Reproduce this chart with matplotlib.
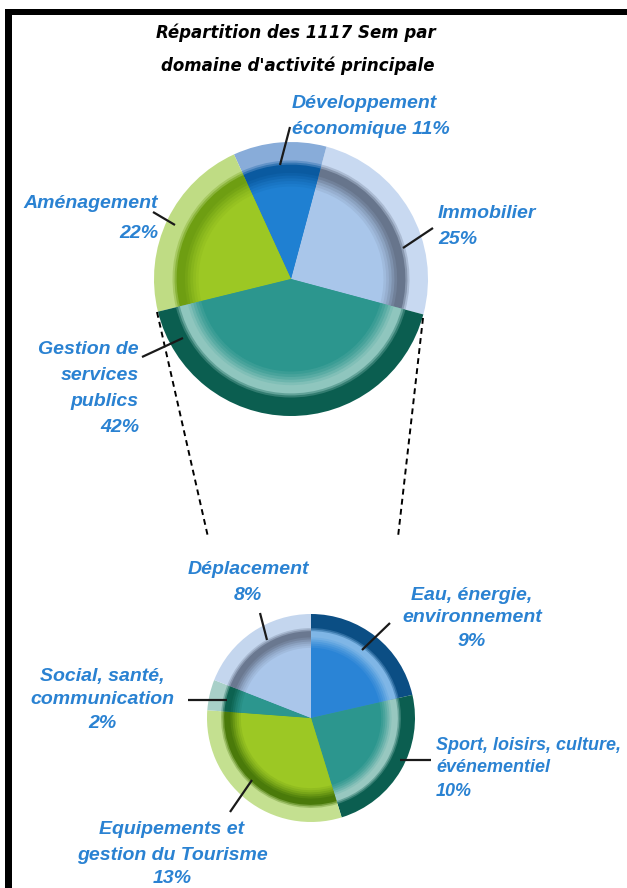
import matplotlib.pyplot as plt
import matplotlib.colors as mcolors
from matplotlib.patches import Rectangle

W, H = 627, 888

# Camembert principal (ordre anti-horaire)
big_labels = ["Immobilier", "Développement économique", "Aménagement", "Gestion de services publics"]
big_values = [25, 11, 22, 42]

# Détail de "Gestion de services publics" (ordre horaire)
small_labels = ["Eau, énergie, environnement", "Sport, loisirs, culture, événementiel",
                "Equipements et gestion du Tourisme", "Social, santé, communication", "Déplacement"]
small_values = [9, 10, 13, 2, 8]

title_lines = ["Répartition des 1117 Sem par", "domaine d'activité principale"]

BLUE = "#2a82d2"

# couleurs : (centre, bord extérieur, gorge)
big_main = ["#a9c6ea", "#1f80d2", "#9cc824", "#2c968e"]
big_outer = ["#c8d9f1", "#88acd9", "#bfdc84", "#0b5e50"]
big_groove = ["#67758c", "#0a5aa0", "#6e9e12", "#8fc6be"]

small_main = ["#2a84d6", "#2c968e", "#9cc824", "#2c968e", "#aac6ea"]
small_outer = ["#0b4e84", "#0b5e50", "#c4e090", "#a8d0c8", "#c4d6ee"]
small_groove = ["#7fb6e6", "#98c8c0", "#4a7a0a", "#0c6250", "#6a7890"]


def Y(y):
    return H - y


def mix(c1, c2, t):
    a = mcolors.to_rgb(c1)
    b = mcolors.to_rgb(c2)
    return tuple(a[i] * (1 - t) + b[i] * t for i in range(3))


def draw_pie(ax, values, center, R, start, ccw, mains, outers, grooves):
    """Camembert avec un bord en relief (plusieurs anneaux superposés)."""
    stages = [(1.0, outers, outers, 0)]
    for r, t in [(0.865, 0.3), (0.85, 0.65), (0.835, 1.0)]:
        stages.append((r, outers, grooves, t))
    for r, t in [(0.775, 0.15), (0.755, 0.35), (0.735, 0.55), (0.715, 0.72),
                 (0.695, 0.86), (0.675, 1.0)]:
        stages.append((r, grooves, mains, t))
    for r, c1, c2, t in stages:
        cols = [mix(a, b, t) for a, b in zip(c1, c2)]
        ax.pie(values, colors=cols, radius=R * r, center=(center[0], Y(center[1])),
               startangle=start, counterclock=ccw,
               wedgeprops=dict(linewidth=0.3, antialiased=True))


def label(ax, lines, x, ys, ha="center", size=14):
    for txt, y in zip(lines, ys):
        ax.text(x, Y(y), txt, ha=ha, va="center", color=BLUE, fontsize=size,
                fontweight="bold", fontstyle="italic", family="Liberation Sans")


def leader(ax, x0, y0, x1, y1):
    ax.plot([x0, x1], [Y(y0), Y(y1)], color="#1a1a1a", lw=1.6, solid_capstyle="butt")


fig = plt.figure(figsize=(W / 100, H / 100), dpi=100)
ax = fig.add_axes([0, 0, 1, 1])

# lignes pointillées reliant les deux camemberts
ax.plot([157, 208], [Y(312), Y(537)], color="black", lw=1.4, ls=(0, (3, 2.2)))
ax.plot([423, 398], [Y(318), Y(537)], color="black", lw=1.4, ls=(0, (3, 2.2)))

draw_pie(ax, big_values, (291, 279), 137, -15, True, big_main, big_outer, big_groove)
draw_pie(ax, small_values, (311, 718), 104, 90, False, small_main, small_outer, small_groove)

# titre
ax.text(296, Y(33), title_lines[0], ha="center", va="center", fontsize=12,
        fontweight="bold", fontstyle="italic", color="black", family="DejaVu Sans")
ax.text(298, Y(66), title_lines[1], ha="center", va="center", fontsize=12,
        fontweight="bold", fontstyle="italic", color="black", family="DejaVu Sans")

# étiquettes du grand camembert
label(ax, ["Développement", "économique 11%"], 292, [104, 130], ha="left")
leader(ax, 290, 127, 280, 165)
label(ax, ["Aménagement", "22%"], 158, [204, 233], ha="right")
leader(ax, 153, 212, 175, 225)
label(ax, ["Immobilier", "25%"], 438, [213, 240], ha="left")
leader(ax, 433, 228, 403, 248)
label(ax, ["Gestion de", "services", "publics", "42%"], 139, [350, 376, 402, 428], ha="right")
leader(ax, 142, 357, 183, 338)

# étiquettes du petit camembert
label(ax, ["Déplacement", "8%"], 248, [569, 596])
leader(ax, 260, 613, 267, 640)
label(ax, ["Eau, énergie,", "environnement", "9%"], 472, [595, 618, 642])
leader(ax, 390, 623, 362, 650)
label(ax, ["Social, santé,", "communication", "2%"], 102, [676, 700, 723])
leader(ax, 188, 700, 227, 700)
label(ax, ["Sport, loisirs, culture,", "événementiel", "10%"], 436, [745, 768, 792],
      ha="left", size=13)
leader(ax, 400, 760, 431, 760)
label(ax, ["Equipements et", "gestion du Tourisme", "13%"], 172, [830, 855, 878])
leader(ax, 252, 780, 230, 812)

# cadre noir (gauche et haut)
ax.add_patch(Rectangle((5, 0), 7, Y(9), color="black", lw=0))
ax.add_patch(Rectangle((5, Y(15)), W, 6, color="black", lw=0))

ax.set_xlim(0, W)
ax.set_ylim(0, H)
ax.set_aspect("equal")
ax.axis("off")

fig.savefig("out.png", dpi=100, facecolor="white")
